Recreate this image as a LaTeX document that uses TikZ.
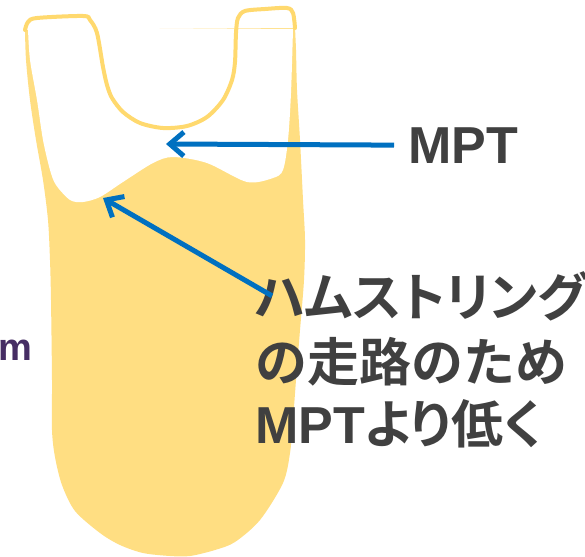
\documentclass[tikz,border=0pt]{standalone}
\usepackage{fontspec}
\setmainfont{Liberation Sans}
\newfontfamily\jpfont{Noto Sans CJK JP}[BoldFont={* Bold}]
\newfontfamily\jpfontp{Noto Sans CJK JP}[BoldFont={* Bold},RawFeature=+palt]
\usetikzlibrary{arrows.meta}
\definecolor{knee}{RGB}{255,222,130}
\definecolor{kneeline}{RGB}{255,217,110}
\definecolor{arrowblue}{RGB}{0,112,192}
\definecolor{txtgray}{RGB}{64,64,64}
\definecolor{fraggray}{RGB}{70,45,100}
\newcommand{\jpl}{\jpfontp\fontsize{52}{52}\selectfont\bfseries}
\newcommand{\jpw}{\jpfont\fontsize{52}{52}\selectfont\bfseries}
\newcommand{\lat}{\normalfont\fontsize{52}{52}\selectfont\bfseries}
\begin{document}
\begin{tikzpicture}[x=1pt,y=-1pt,
    arr/.style={arrowblue, line width=5pt, -{Straight Barb[length=14pt,width=24pt]}},
    lbl/.style={txtgray, inner sep=0pt, anchor=base west}]
  \fill[white] (0,0) rectangle (585,556);
  \useasboundingbox (0,0) rectangle (585,556);
  % bone
  \fill[knee] plot[smooth] coordinates {(25,30) (26,60) (30,100) (36,140) (43,180)
    (48,220) (50,260) (51,300) (52,380) (52,430) (55,457) (62,485) (75,511)
    (100,533) (120,545) (143,553) (170,556) (190,556) (215,550) (235,542)
    (260,520) (283,483) (290,453) (293,420) (296,380) (300,330) (304,280)
    (305,240) (303,200) (300,140) (297,90) (296,50) (295,28)} -- cycle;
  \fill[white] plot[smooth] coordinates {(28,29) (30,60) (37,100) (43,140) (50,170)
    (56,185) (70,200) (83,202) (100,197) (123,182) (153,163) (173,157)
    (207,163) (247,182) (273,178) (283,170) (288,140) (291,93) (293,29)} -- cycle;
  \draw[kneeline, line width=4pt, line cap=round] plot[smooth] coordinates {(25,30)
    (28,22) (37,18) (83,16) (90,20) (97,33) (103,67) (107,85) (112,98)
    (123,112) (140,123) (163,128) (187,126) (207,117) (223,100) (232,80)
    (235,62) (236,33) (238,18) (245,11) (265,9) (287,8) (293,13) (295,28)};
  % labels
  \node[lbl, font=\fontsize{38}{38}\selectfont\bfseries, text=fraggray] (frag) at (-2,360) {m};
  \node[lbl, font=\lat] (mpt) at (408,164) {MPT};
  \node[lbl, font=\jpl] (ham1) at (255,316) {ハムストリング};
  \node[lbl, font=\jpw] (ham2) at (255,381) {の走路のため};
  \node[lbl, font=\jpl] (ham3) at (255,443) {{\lat MPT}より低く};
  % arrows
  \coordinate (mptTip) at (166,144);
  \coordinate (hamTip) at (103,198);
  \draw[arr] ([xshift=-14pt,yshift=1pt]mpt.west) -- (mptTip);
  \draw[arr] ([xshift=17pt]ham1.west) -- (hamTip);
\end{tikzpicture}
\end{document}
